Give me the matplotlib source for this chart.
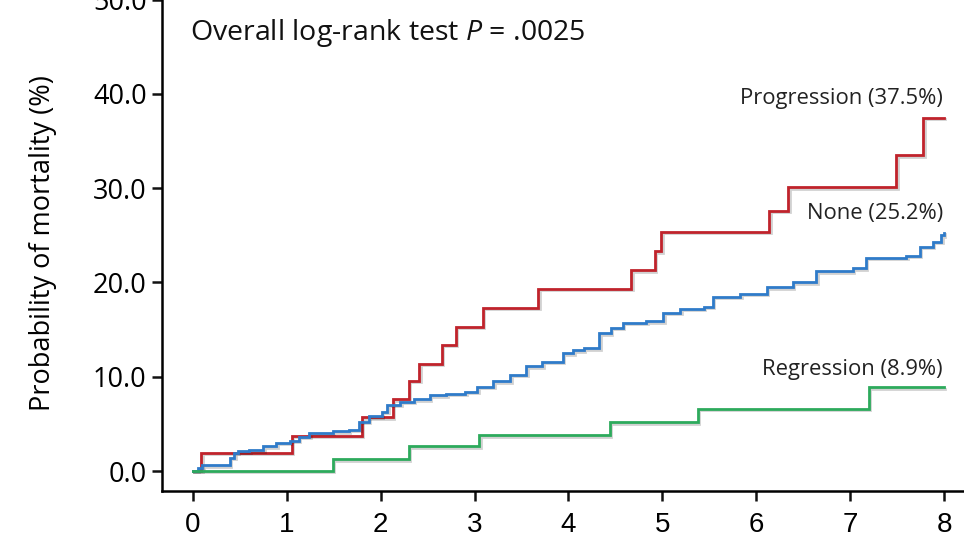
import matplotlib
matplotlib.use("Agg")
import matplotlib.pyplot as plt
import matplotlib.patheffects as pe

plt.rcParams['font.family'] = ['Open Sans', 'DejaVu Sans']
plt.rcParams['mathtext.fontset'] = 'custom'
plt.rcParams['mathtext.it'] = 'Open Sans:italic'
plt.rcParams['mathtext.rm'] = 'Open Sans'

# years of follow-up vs cumulative mortality (%)
prog_x = [0, 0.09, 1.05, 1.80, 2.13, 2.30, 2.41, 2.65, 2.80, 3.09, 3.68,
          4.67, 4.92, 4.99, 6.14, 6.34, 7.49, 7.78, 8.0]
prog_y = [0, 1.9, 3.75, 5.7, 7.6, 9.6, 11.4, 13.4, 15.3, 17.3, 19.3,
          21.3, 23.3, 25.4, 27.6, 30.1, 33.5, 37.5, 37.5]

none_x = [0, 0.05, 0.1, 0.39, 0.44, 0.48, 0.6, 0.75, 0.89, 1.03, 1.13, 1.24,
          1.49, 1.66, 1.77, 1.87, 2.01, 2.07, 2.21, 2.35, 2.52, 2.7, 2.9,
          3.03, 3.2, 3.38, 3.55, 3.72, 3.94, 4.05, 4.16, 4.33, 4.45, 4.58,
          4.83, 5.01, 5.19, 5.44, 5.54, 5.83, 6.11, 6.39, 6.64, 7.03, 7.17,
          7.6, 7.74, 7.88, 7.97, 8.0]
none_y = [0, 0.3, 0.6, 1.4, 1.9, 2.1, 2.2, 2.6, 3.0, 3.2, 3.65, 4.05,
          4.2, 4.4, 5.2, 5.8, 6.3, 7.0, 7.35, 7.6, 8.05, 8.2, 8.4,
          8.95, 9.5, 10.2, 11.1, 11.6, 12.5, 12.8, 13.0, 14.6, 15.2, 15.7,
          15.9, 16.8, 17.2, 17.4, 18.5, 18.8, 19.5, 20.0, 21.2, 21.5, 22.6,
          22.8, 23.8, 24.3, 25.0, 25.3]

regr_x = [0, 1.49, 2.30, 3.05, 4.44, 5.38, 7.20, 8.0]
regr_y = [0, 1.24, 2.6, 3.8, 5.15, 6.6, 8.9, 8.9]

labels = ["Progression (37.5%)", "None (25.2%)", "Regression (8.9%)"]
label_y = [39.5, 27.3, 10.8]
colors = ["#C0232B", "#2F7BC9", "#2DAA5C"]

fig = plt.figure(figsize=(9.64, 5.47), dpi=100)
ax = fig.add_axes([0.168, 0.1024, 0.8405, 0.9067])

shadow = [pe.SimpleLineShadow(offset=(1, -1), alpha=0.18), pe.Normal()]
for xs, ys, c in zip([prog_x, none_x, regr_x], [prog_y, none_y, regr_y], colors):
    ax.plot(xs, ys, drawstyle="steps-post", color=c, lw=2.0,
            path_effects=shadow, solid_joinstyle="miter")

for lab, ly in zip(labels, label_y):
    ax.text(7.99, ly, lab, ha="right", va="center", fontsize=15.8,
            color="#222222")

ax.text(-0.03, 46.5, r"Overall log-rank test $P$ = .0025", fontsize=20.5,
        ha="left", va="center", color="#111111")

ax.set_xlim(-0.33, 8.3)
ax.set_ylim(-2.12, 50.5)
ax.set_xticks(range(0, 9))
ax.set_yticks([0, 10, 20, 30, 40, 50])
ax.set_yticklabels(["0.0", "10.0", "20.0", "30.0", "40.0", "50.0"])
ax.tick_params(axis="both", width=1.8, length=7, color="#111111")
ax.tick_params(axis="y", pad=4, labelsize=19.5)
ax.tick_params(axis="x", pad=8, labelsize=20)
for t in ax.get_xticklabels():
    t.set_family(["Liberation Sans", "DejaVu Sans"])
ax.set_ylabel("Probability of mortality (%)", fontsize=19.5, labelpad=26)

ax.spines["top"].set_visible(False)
ax.spines["right"].set_visible(False)
ax.spines["left"].set_linewidth(1.8)
ax.spines["bottom"].set_linewidth(1.8)

fig.savefig("out.png", dpi=100)
